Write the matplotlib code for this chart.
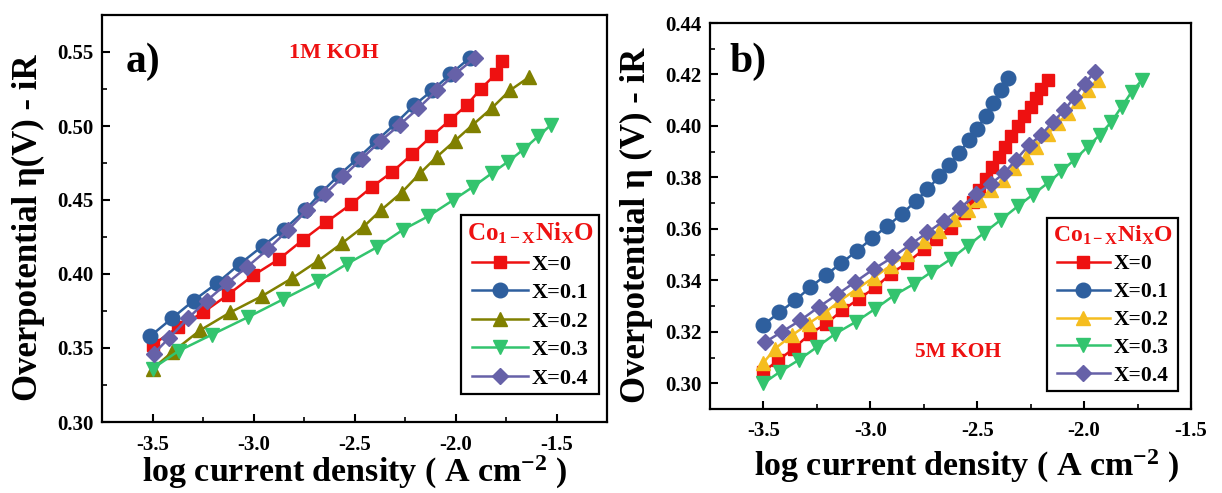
import matplotlib
matplotlib.use("Agg")
import matplotlib.pyplot as plt
from matplotlib.ticker import MultipleLocator, FormatStrFormatter

plt.rcParams['font.family'] = ['Liberation Serif', 'DejaVu Serif']
plt.rcParams['font.weight'] = 'bold'
plt.rcParams['axes.unicode_minus'] = False
plt.rcParams['mathtext.fontset'] = 'custom'
plt.rcParams['mathtext.rm'] = 'Liberation Serif:bold'
plt.rcParams['mathtext.it'] = 'Liberation Serif:bold:italic'
plt.rcParams['mathtext.bf'] = 'Liberation Serif:bold'

labels = ["X=0", "X=0.1", "X=0.2", "X=0.3", "X=0.4"]
markers = ["s", "o", "^", "v", "D"]

# ---- Panel a: 1M KOH ----
a_x0 = [-3.50, -3.374, -3.250, -3.126, -3.002, -2.874, -2.756, -2.640, -2.519, -2.412,
        -2.313, -2.214, -2.120, -2.027, -1.945, -1.876, -1.801, -1.772]
a_y0 = [0.352, 0.364, 0.374, 0.386, 0.399, 0.410, 0.423, 0.435, 0.447, 0.459,
        0.469, 0.481, 0.493, 0.504, 0.514, 0.525, 0.535, 0.544]
a_x1 = [-3.511, -3.404, -3.297, -3.179, -3.066, -2.954, -2.849, -2.745, -2.665, -2.575,
        -2.485, -2.390, -2.295, -2.205, -2.115, -2.025, -1.930]
a_y1 = [0.358, 0.370, 0.382, 0.394, 0.407, 0.419, 0.430, 0.443, 0.455, 0.467,
        0.478, 0.490, 0.502, 0.514, 0.524, 0.535, 0.546]
a_x2 = [-3.50, -3.404, -3.264, -3.116, -2.959, -2.811, -2.679, -2.560, -2.455, -2.370,
        -2.267, -2.176, -2.094, -2.003, -1.913, -1.821, -1.731, -1.636]
a_y2 = [0.336, 0.347, 0.362, 0.374, 0.385, 0.397, 0.409, 0.421, 0.432, 0.443,
        0.455, 0.468, 0.479, 0.490, 0.501, 0.512, 0.524, 0.533]
a_x3 = [-3.50, -3.371, -3.206, -3.025, -2.852, -2.679, -2.535, -2.390, -2.259, -2.135,
        -2.011, -1.912, -1.821, -1.739, -1.665, -1.591, -1.525]
a_y3 = [0.336, 0.348, 0.359, 0.371, 0.383, 0.395, 0.407, 0.418, 0.430, 0.439,
        0.450, 0.459, 0.468, 0.476, 0.484, 0.493, 0.501]
a_x4 = [-3.495, -3.416, -3.325, -3.231, -3.129, -3.030, -2.926, -2.827, -2.736, -2.646,
        -2.555, -2.464, -2.370, -2.275, -2.184, -2.093, -2.003, -1.904]
a_y4 = [0.346, 0.357, 0.370, 0.382, 0.394, 0.405, 0.417, 0.430, 0.443, 0.454,
        0.466, 0.478, 0.490, 0.501, 0.512, 0.524, 0.535, 0.546]
a_colors = ["#ee1111", "#2e5f9e", "#808000", "#33c46e", "#6661a8"]

# ---- Panel b: 5M KOH ----
b_x0 = [-3.500, -3.430, -3.359, -3.281, -3.206, -3.132, -3.054, -2.976, -2.905, -2.827,
        -2.749, -2.694, -2.623, -2.561, -2.520, -2.490, -2.459, -2.430, -2.400, -2.370,
        -2.340, -2.310, -2.280, -2.250, -2.225, -2.200, -2.170]
b_y0 = [0.3045, 0.3090, 0.3135, 0.3193, 0.3232, 0.3283, 0.3328, 0.3373, 0.3425, 0.3469,
        0.3521, 0.3560, 0.3605, 0.3662, 0.3705, 0.3750, 0.3795, 0.3840, 0.3880, 0.3920,
        0.3960, 0.4000, 0.4040, 0.4075, 0.4110, 0.4145, 0.4180]
b_x1 = [-3.503, -3.425, -3.352, -3.281, -3.206, -3.137, -3.062, -2.991, -2.921, -2.850,
        -2.788, -2.733, -2.678, -2.631, -2.585, -2.538, -2.500, -2.460, -2.425, -2.390,
        -2.355]
b_y1 = [0.3225, 0.3276, 0.3322, 0.3373, 0.3422, 0.3466, 0.3515, 0.3564, 0.3611, 0.3659,
        0.3708, 0.3753, 0.3804, 0.3849, 0.3894, 0.3946, 0.3990, 0.4040, 0.4090, 0.4140,
        0.4185]
b_x2 = [-3.500, -3.445, -3.367, -3.289, -3.210, -3.140, -3.062, -2.984, -2.905, -2.827,
        -2.749, -2.678, -2.608, -2.545, -2.491, -2.436, -2.381, -2.326, -2.271, -2.224,
        -2.170, -2.123, -2.076, -2.029, -1.982, -1.935]
b_y2 = [0.3080, 0.3135, 0.3186, 0.3232, 0.3276, 0.3322, 0.3367, 0.3411, 0.3457, 0.3502,
        0.3553, 0.3592, 0.3637, 0.3675, 0.3712, 0.3750, 0.3790, 0.3835, 0.3880, 0.3920,
        0.3970, 0.4010, 0.4050, 0.4095, 0.4140, 0.4180]
b_x3 = [-3.500, -3.422, -3.336, -3.249, -3.163, -3.069, -2.976, -2.890, -2.796, -2.717,
        -2.623, -2.545, -2.467, -2.390, -2.310, -2.240, -2.170, -2.107, -2.045, -1.982,
        -1.927, -1.872, -1.825, -1.778, -1.731]
b_y3 = [0.3000, 0.3045, 0.3090, 0.3141, 0.3193, 0.3238, 0.3290, 0.3341, 0.3386, 0.3431,
        0.3483, 0.3534, 0.3585, 0.3635, 0.3688, 0.3733, 0.3778, 0.3823, 0.3869, 0.3920,
        0.3965, 0.4016, 0.4074, 0.4132, 0.4177]
b_x4 = [-3.492, -3.414, -3.328, -3.242, -3.155, -3.074, -2.984, -2.897, -2.811, -2.733,
        -2.655, -2.581, -2.506, -2.436, -2.373, -2.318, -2.256, -2.201, -2.146, -2.092,
        -2.045, -1.998, -1.951]
b_y4 = [0.3160, 0.3200, 0.3244, 0.3296, 0.3345, 0.3392, 0.3444, 0.3489, 0.3540, 0.3586,
        0.3632, 0.3680, 0.3734, 0.3775, 0.3817, 0.3869, 0.3927, 0.3965, 0.4016, 0.4061,
        0.4113, 0.4164, 0.4209]
b_colors = ["#ee1111", "#2e5f9e", "#f5bd1f", "#33c46e", "#6661a8"]

legend_title = r'Co$_{\mathrm{1-X}}$Ni$_{\mathrm{X}}$O'
xlabel_text = r'log current density ( A cm$^{\mathrm{-2}}$ )'

fig = plt.figure(figsize=(12.22, 4.93), dpi=100)
ax_a = fig.add_axes([102/1222, 1-422/493, 505/1222, 407/493])
ax_b = fig.add_axes([710/1222, 1-409/493, 481/1222, 386/493])


def style(ax, ylabel, ymaj, ymin_loc, ylab_xy, xlab_xy):
    for s in ax.spines.values():
        s.set_linewidth(1.6)
    ax.xaxis.set_major_locator(MultipleLocator(0.5))
    ax.xaxis.set_minor_locator(MultipleLocator(0.25))
    ax.yaxis.set_major_locator(MultipleLocator(ymaj))
    ax.yaxis.set_minor_locator(MultipleLocator(ymin_loc))
    ax.xaxis.set_major_formatter(FormatStrFormatter('%.1f'))
    ax.yaxis.set_major_formatter(FormatStrFormatter('%.2f'))
    ax.tick_params(which='major', direction='in', length=6, width=1.5,
                   labelsize=15, top=False, right=False)
    ax.tick_params(which='minor', direction='in', length=3.5, width=1.2,
                   top=False, right=False)
    ax.tick_params(axis='x', pad=9)
    ax.tick_params(axis='y', pad=6)
    for lab in ax.get_xticklabels() + ax.get_yticklabels():
        lab.set_fontweight('bold')
    ax.set_ylabel(ylabel, fontsize=25, fontweight='bold', va='center')
    ax.yaxis.set_label_coords(*ylab_xy)
    ax.set_xlabel(xlabel_text, fontsize=24.5, fontweight='bold', va='top')
    ax.xaxis.set_label_coords(*xlab_xy)


def add_legend(ax, anchor, fs, tfs):
    leg = ax.legend(loc='upper left', bbox_to_anchor=anchor, title=legend_title,
                    fontsize=fs, title_fontsize=tfs, frameon=True, fancybox=False,
                    edgecolor='black', framealpha=1, handlelength=2.5,
                    handletextpad=0.15, labelspacing=0.36, borderpad=0.25,
                    borderaxespad=0)
    leg.get_frame().set_linewidth(1.6)
    leg.get_title().set_color('#ee1111')
    for t in leg.get_texts():
        t.set_fontweight('bold')
    return leg


def msize(m):
    return {'s': 9, 'D': 8.5}.get(m, 10.5)


xs_a = [a_x0, a_x1, a_x2, a_x3, a_x4]
ys_a = [a_y0, a_y1, a_y2, a_y3, a_y4]
for xs, ys, c, m, lab in zip(xs_a, ys_a, a_colors, markers, labels):
    ax_a.plot(xs, ys, color=c, marker=m, markersize=msize(m), linewidth=1.8, label=lab)
ax_a.set_xlim(-3.75, -1.25)
ax_a.set_ylim(0.30, 0.575)
style(ax_a, 'Overpotential η(V) - iR', 0.05, 0.025, (-0.145, 0.478), (0.5, -0.078))
ax_a.text(0.081, 0.885, 'a)', transform=ax_a.transAxes, fontsize=30,
          fontweight='bold', ha='center', va='center')
ax_a.text(-2.60, 0.549, '1M KOH', color='#ee1111', fontsize=16,
          fontweight='bold', ha='center', va='center')
add_legend(ax_a, (0.711, 0.509), 16, 18)

xs_b = [b_x0, b_x1, b_x2, b_x3, b_x4]
ys_b = [b_y0, b_y1, b_y2, b_y3, b_y4]
for xs, ys, c, m, lab in zip(xs_b, ys_b, b_colors, markers, labels):
    ax_b.plot(xs, ys, color=c, marker=m, markersize=msize(m), linewidth=1.8, label=lab)
ax_b.set_xlim(-3.75, -1.5)
ax_b.set_ylim(0.29, 0.44)
style(ax_b, 'Overpotential η (V) - iR', 0.02, 0.01, (-0.152, 0.477), (0.534, -0.1))
ax_b.text(0.079, 0.899, 'b)', transform=ax_b.transAxes, fontsize=30,
          fontweight='bold', ha='center', va='center')
ax_b.text(-2.59, 0.3123, '5M KOH', color='#ee1111', fontsize=15.5,
          fontweight='bold', ha='center', va='center')
add_legend(ax_b, (0.701, 0.495), 15.5, 17)

fig.savefig('out.png', dpi=100)
